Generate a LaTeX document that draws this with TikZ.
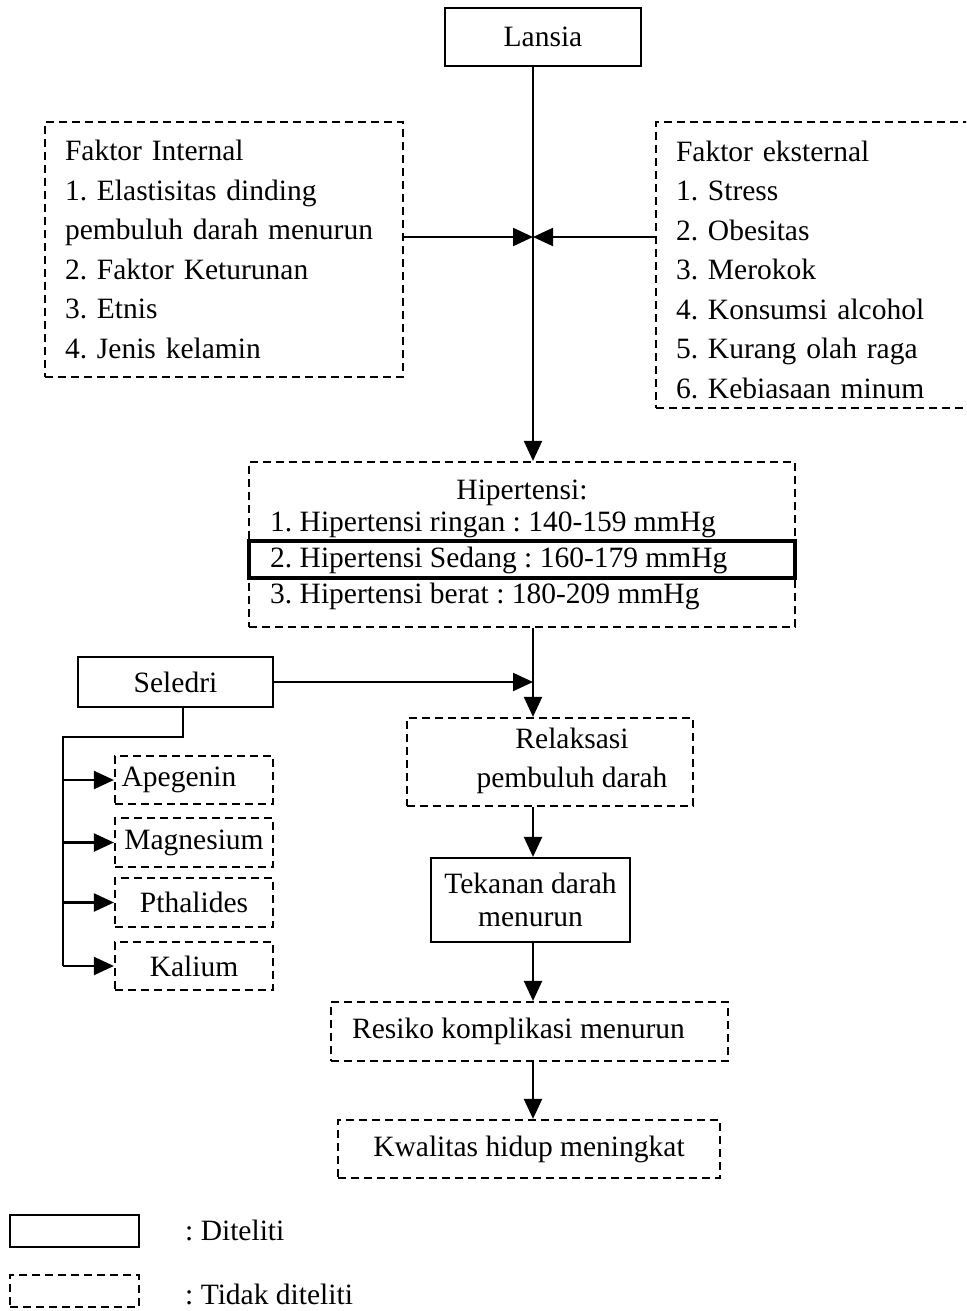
\documentclass[tikz,border=0pt]{standalone}
\usepackage{fontspec}
\setmainfont{Liberation Serif}
\usetikzlibrary{arrows.meta}
\begin{document}
\frenchspacing
\begin{tikzpicture}[x=1pt,y=-1pt,
 every node/.style={font=\fontsize{29.5}{39.5}\selectfont, inner sep=0pt},
 solidbox/.style={draw, line width=2.2pt, rectangle},
 dashbox/.style={draw, line width=2.2pt, dash pattern=on 8pt off 5pt},
 conn/.style={line width=2.2pt},
 arr/.style={conn, -{Triangle[length=20pt,width=18pt]}},
]
\useasboundingbox (0,0) rectangle (966,1311);
\clip (0,0) rectangle (966,1311);
\fill[white] (0,0) rectangle (966,1311);

\coordinate (mx) at (533,0);

\node[solidbox, minimum width=196, minimum height=58] (lansia) at (543,37) {Lansia};

\node[dashbox, minimum width=358, minimum height=255, text width=318, align=left] (fi) at (224,249.5)
 {Faktor Internal\\1. Elastisitas dinding\\pembuluh darah menurun\\2. Faktor Keturunan\\3. Etnis\\4. Jenis kelamin};

\node[dashbox, minimum width=320, minimum height=286] (fe) at (816,265) {};
\node[text width=280, align=left] (fet) at (816,269.5)
 {Faktor eksternal\\1. Stress\\2. Obesitas\\3. Merokok\\4. Konsumsi alcohol\\5. Kurang olah raga\\6. Kebiasaan minum};

\node[dashbox, minimum width=546, minimum height=165] (hip) at (522,544.5) {};
\node (hipt) at (522,493) {Hipertensi:};
\node[anchor=west] (h1) at (270,525) {1. Hipertensi ringan : 140-159 mmHg};
\node[draw, line width=3.4pt, minimum width=546, minimum height=37] (h2box) at (522,559.5) {};
\node[anchor=west] (h2) at (270,560) {2. Hipertensi Sedang : 160-179 mmHg};
\node[anchor=west] (h3) at (270,596) {3. Hipertensi berat : 180-209 mmHg};

\coordinate (j) at (533,237);
\draw[arr] (lansia.south -| mx) -- (hip.north -| mx);
\draw[arr] (fi.east |- j) -- (j);
\draw[arr] (fe.west |- j) -- (j);

\node[solidbox, minimum width=195, minimum height=50] (sel) at (175.5,682) {Seledri};
\node[dashbox, minimum width=286, minimum height=88] (rel) at (550,762) {};
\node[align=center] (relt) at (572,761) {Relaksasi\\pembuluh darah};

\coordinate (sj) at (533,682);
\draw[arr] (sel.east) -- (sj);
\draw[arr] (hip.south -| mx) -- (rel.north -| mx);

\node[solidbox, minimum width=199, minimum height=84, align=center, font=\fontsize{29.5}{33}\selectfont] (tek) at (530.5,900) {Tekanan darah\\menurun};
\node[dashbox, minimum width=397, minimum height=59] (res) at (529.5,1031.5) {\hspace*{-22pt}Resiko komplikasi menurun};
\node[dashbox, minimum width=382, minimum height=58] (kw) at (529,1149) {Kwalitas hidup meningkat};

\draw[arr] (rel.south -| mx) -- (tek.north -| mx);
\draw[arr] (tek.south -| mx) -- (res.north -| mx);
\draw[arr] (res.south -| mx) -- (kw.north -| mx);

\node[dashbox, minimum width=158, minimum height=48] (ape) at (194,780) {\hspace*{-30pt}Apegenin};
\node[dashbox, minimum width=158, minimum height=49] (mag) at (194,842.5) {Magnesium};
\node[dashbox, minimum width=158, minimum height=49] (pth) at (194,902.5) {Pthalides};
\node[dashbox, minimum width=158, minimum height=48] (kal) at (194,966) {Kalium};

\coordinate (s1) at (183,737);
\coordinate (s2) at (63,737);
\draw[conn] (sel.south -| s1) -- (s1) -- (s2) -- (s2 |- kal.west);
\draw[arr] (s2 |- ape.west) -- (ape.west);
\draw[arr] (s2 |- mag.west) -- (mag.west);
\draw[arr] (s2 |- pth.west) -- (pth.west);
\draw[arr] (s2 |- kal.west) -- (kal.west);

\node[solidbox, minimum width=129, minimum height=32] (leg1) at (74.5,1231) {};
\node[anchor=west] (leg1t) at (185,1230) {: Diteliti};
\node[dashbox, minimum width=129, minimum height=32] (leg2) at (74.5,1291) {};
\node[anchor=west] (leg2t) at (185,1294) {: Tidak diteliti};
\end{tikzpicture}
\end{document}
